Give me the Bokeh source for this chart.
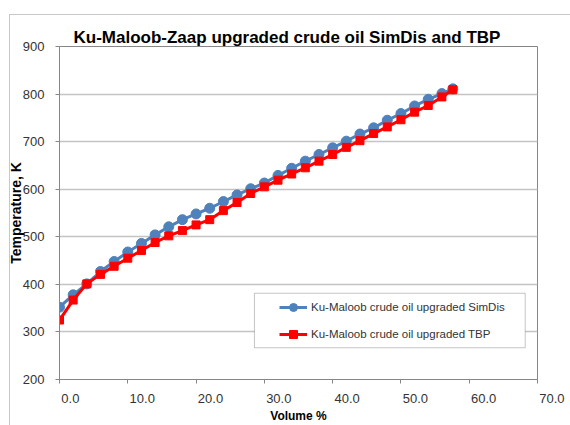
from bokeh.plotting import figure
from bokeh.models import (ColumnDataSource, Legend, LegendItem, BoxAnnotation,
                          SingleIntervalTicker, Range1d)
from bokeh.embed import file_html
from bokeh.resources import INLINE

title_text = "Ku-Maloob-Zaap  upgraded crude oil SimDis and  TBP"
x_label = "Volume %"
y_label = "Temperature, K"
simdis_name = "Ku-Maloob crude oil upgraded SimDis"
tbp_name = "Ku-Maloob crude oil upgraded TBP"

x_ticks = [0, 10, 20, 30, 40, 50, 60, 70]
x_tick_labels = ["0.0", "10.0", "20.0", "30.0", "40.0", "50.0", "60.0", "70.0"]

volume = [0, 2, 4, 6, 8, 10, 12, 14, 16, 18, 20, 22, 24, 26, 28, 30, 32, 34, 36, 38,
          40, 42, 44, 46, 48, 50, 52, 54, 56, 57.6]
simdis = [352, 378, 401, 427, 448, 468, 486, 504, 521, 536, 548, 560, 574, 588, 601, 613,
          629, 644, 659, 673, 687, 701, 716, 729, 745, 759, 775, 789, 801, 811]
tbp = [325, 367, 401, 421, 438, 455, 471, 488, 502, 513, 525, 536, 555, 572, 591, 605,
       619, 632, 645, 659, 673, 688, 702, 717, 731, 746, 762, 776, 794, 809]

BLUE = "#4F81BD"
RED = "#FF0000"
FONT = "Liberation Sans"
NBSP = "\u00a0"

p = figure(width=570, height=425, x_range=Range1d(0, 70), y_range=Range1d(200, 900),
           output_backend="svg", toolbar_location=None,
           min_border_left=59, min_border_right=33, min_border_top=46, min_border_bottom=45)

# outer chart border (drawn behind the transparent canvas border area)
p.border_fill_color = None
p.styles = {
    "background-image": "linear-gradient(#c8c8c8, #c8c8c8), linear-gradient(#c8c8c8, #c8c8c8)",
    "background-size": "1px 100%, 100% 1px",
    "background-position": "9px 14px, 9px 14px",
    "background-repeat": "no-repeat",
    "background-color": "white",
}

p.title.text = title_text
p.title.text_font = FONT
p.title.text_font_size = "17px"
p.title.text_font_style = "bold"
p.title.text_color = "#000000"
p.title.align = "left"
p.title.offset = 14
p.title.standoff = 0

p.outline_line_color = "#868686"
p.background_fill_color = "white"

p.xaxis.ticker = x_ticks
p.xaxis.major_label_overrides = {
    t: (NBSP * (6 if len(lbl) == 3 else 8)) + lbl for t, lbl in zip(x_ticks, x_tick_labels)
}
p.yaxis.ticker = SingleIntervalTicker(interval=100)
for ax in (p.xaxis, p.yaxis):
    ax.axis_line_color = "#868686"
    ax.major_tick_line_color = "#868686"
    ax.major_tick_out = 4
    ax.major_tick_in = 0
    ax.minor_tick_line_color = None
    ax.major_label_text_font = FONT
    ax.major_label_text_font_size = "13px"
    ax.major_label_text_color = "#333333"
    ax.axis_label_text_font = FONT
    ax.axis_label_text_font_style = "bold"
    ax.axis_label_text_color = "#000000"
p.xaxis.major_label_standoff = 7
p.yaxis.major_label_standoff = 11

p.xaxis.axis_label = x_label
p.xaxis.axis_label_text_font_size = "12px"
p.xaxis.axis_label_standoff = 0
p.yaxis.axis_label = y_label
p.yaxis.axis_label_text_font_size = "14px"
p.yaxis.axis_label_standoff = -4

p.xgrid.grid_line_color = None
p.ygrid.grid_line_color = "#c4c4c4"
p.ygrid.grid_line_width = 1.5

src = ColumnDataSource(dict(vol=volume, simdis=simdis, tbp=tbp))
sb = p.scatter("vol", "simdis", source=src, marker="circle", size=6, fill_color=BLUE, line_color=BLUE)
lb = p.line("vol", "simdis", source=src, line_color=BLUE, line_width=3)
p.scatter("vol", "simdis", source=src, marker="circle", size=10, fill_color=BLUE, line_color=BLUE)
sr = p.scatter("vol", "tbp", source=src, marker="square", size=5, fill_color=RED, line_color=RED)
lr = p.line("vol", "tbp", source=src, line_color=RED, line_width=3)
p.scatter("vol", "tbp", source=src, marker="square", size=8, fill_color=RED, line_color=RED)

# legend box
p.add_layout(BoxAnnotation(left=28.55, right=68.2, top=381.3, bottom=266.7,
                           fill_color="white", fill_alpha=1, line_color="#404040", line_width=1))

legend = Legend(items=[LegendItem(label=simdis_name, renderers=[lb, sb]),
                       LegendItem(label=tbp_name, renderers=[lr, sr])],
                location=(220, 35), padding=0, spacing=7, margin=0,
                glyph_width=28, glyph_height=20, label_height=20, label_standoff=4,
                border_line_color=None, background_fill_alpha=0,
                label_text_font=FONT, label_text_font_size="11.5px", label_text_color="#333333")
p.add_layout(legend, "center")

open("out.html", "w").write(file_html(p, INLINE))
